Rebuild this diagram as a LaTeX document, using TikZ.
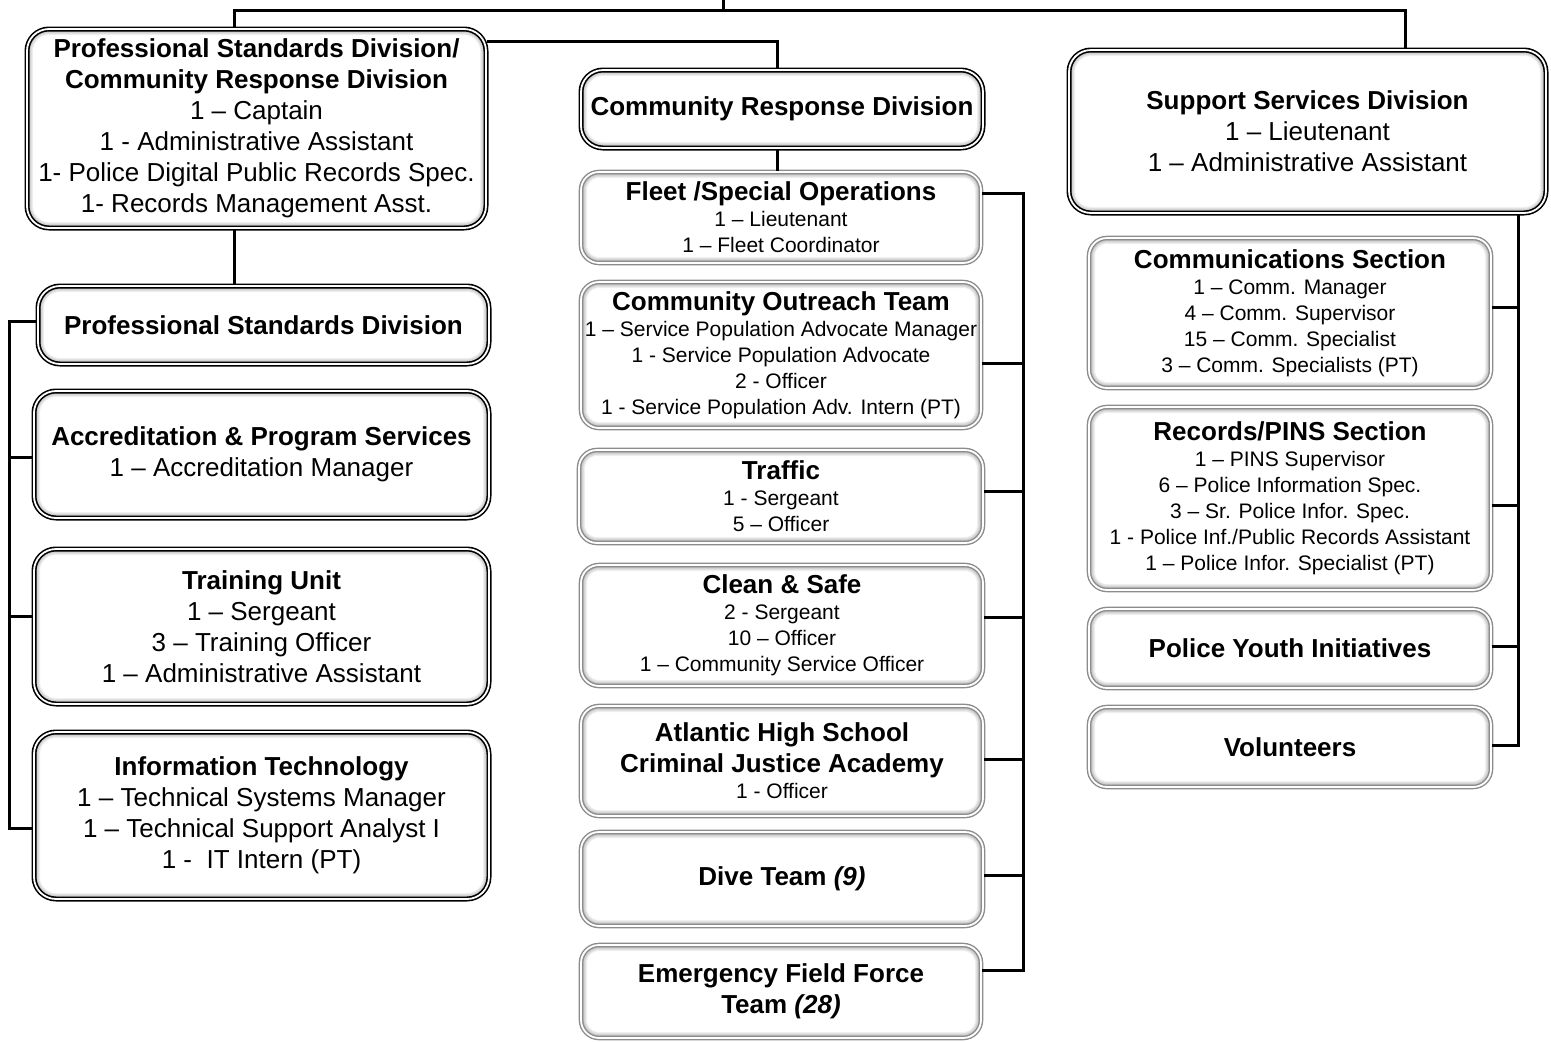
\documentclass[tikz,border=0pt]{standalone}
\usepackage{fontspec}
\setmainfont{Liberation Sans}
\newcommand\bigf{\fontsize{26}{31}\selectfont}
\newcommand\smallf{\fontsize{21}{26}\selectfont}
\newcommand\ttl[1]{{\fontsize{26}{31}\selectfont\bfseries #1}}
\begin{document}
\begin{tikzpicture}[
    x=1pt, y=-1pt,
    glow/.style={path picture={
        \foreach \w in {2pt,4pt,6pt,8pt,10pt,12pt}
          \draw[black, opacity=0.06, line width=\w, rounded corners=#1]
            (path picture bounding box.south west) rectangle
            (path picture bounding box.north east);}},
    dbox/.style={draw=black, double=white, double distance=1.8pt, line width=1.6pt,
                 rounded corners=22pt, fill=white, glow=22pt, align=center,
                 inner sep=0pt, font=\bigf},
    gbox/.style={draw=black!45, double=white, double distance=1.8pt, line width=1.4pt,
                 rounded corners=18pt, fill=white, glow=18pt, align=center,
                 inner sep=0pt, font=\smallf},
    conn/.style={line width=3pt},
  ]
    \useasboundingbox (0,0) rectangle (1551,1042);

    % Left column
    \node[dbox, minimum width=459pt, minimum height=199pt] (psdcrd) at (256.5,128.5)
      {\textbf{Professional Standards Division/}\\\textbf{Community Response Division}\\
       1 -- Captain\\1 - Administrative Assistant\\
       1- Police Digital Public Records Spec.\\1- Records Management Asst.};
    \node[dbox, minimum width=451pt, minimum height=78pt] (psd) at (263.5,325)
      {\textbf{Professional Standards Division}};
    \node[dbox, minimum width=455pt, minimum height=127pt] (acc) at (261.5,454.5)
      {\textbf{Accreditation \& Program Services}\\1 -- Accreditation Manager};
    \node[dbox, minimum width=455pt, minimum height=155pt] (train) at (261.5,626.5)
      {\textbf{Training Unit}\\1 -- Sergeant\\3 -- Training Officer\\1 -- Administrative Assistant};
    \node[dbox, minimum width=455pt, minimum height=167pt] (it) at (261.5,815.5)
      {\textbf{Information Technology}\\1 -- Technical Systems Manager\\
       1 -- Technical Support Analyst I\\1 -\ \ IT Intern (PT)};

    % Center column
    \node[dbox, minimum width=402pt, minimum height=78pt] (crd) at (782,109)
      {\textbf{Community Response Division}};
    \node[gbox, minimum width=400pt, minimum height=91pt] (fleet) at (781,217.5)
      {\ttl{Fleet /Special Operations}\\1 -- Lieutenant\\1 -- Fleet Coordinator};
    \node[gbox, minimum width=400pt, minimum height=146pt] (cot) at (781,355)
      {\ttl{Community Outreach Team}\\1 -- Service Population Advocate Manager\\
       1 - Service Population Advocate\\2 - Officer\\1 - Service Population Adv. Intern (PT)};
    \node[gbox, minimum width=404pt, minimum height=93pt] (traffic) at (781,496.5)
      {\ttl{Traffic}\\1 - Sergeant\\5 -- Officer};
    \node[gbox, minimum width=402pt, minimum height=121pt] (clean) at (782,625.5)
      {\ttl{Clean \& Safe}\\2 - Sergeant\\10 -- Officer\\1 -- Community Service Officer};
    \node[gbox, minimum width=402pt, minimum height=110pt] (ahs) at (782,761)
      {\ttl{Atlantic High School}\\[5pt]\ttl{Criminal Justice Academy}\\1 - Officer};
    \node[gbox, font=\bigf, minimum width=402pt, minimum height=94pt] (dive) at (782,879)
      {\textbf{Dive Team \textit{(9)}}};
    \node[gbox, font=\bigf, minimum width=400pt, minimum height=93pt] (eff) at (781,991.5)
      {\textbf{Emergency Field Force}\\\textbf{Team \textit{(28)}}};

    % Right column
    \node[dbox, minimum width=477pt, minimum height=163pt] (supp) at (1307.5,131.5)
      {\textbf{Support Services Division}\\1 -- Lieutenant\\1 -- Administrative Assistant};
    \node[gbox, minimum width=402pt, minimum height=150pt] (comm) at (1290,313)
      {\ttl{Communications Section}\\1 -- Comm. Manager\\4 -- Comm. Supervisor\\
       15 -- Comm. Specialist\\3 -- Comm. Specialists (PT)};
    \node[gbox, minimum width=402pt, minimum height=183pt] (rec) at (1290,498.5)
      {\ttl{Records/PINS Section}\\1 -- PINS Supervisor\\6 -- Police Information Spec.\\
       3 -- Sr. Police Infor. Spec.\\1 - Police Inf./Public Records Assistant\\
       1 -- Police Infor. Specialist (PT)};
    \node[gbox, font=\bigf, minimum width=402pt, minimum height=79pt] (youth) at (1290,648.5)
      {\textbf{Police Youth Initiatives}};
    \node[gbox, font=\bigf, minimum width=402pt, minimum height=80pt] (vol) at (1290,747)
      {\textbf{Volunteers}};

    % Connectors
    \coordinate (top) at (723,-10);
    \coordinate (hub) at (723,10);
    \coordinate (lbus) at (9,0);
    \coordinate (cbus) at (1023,0);
    \coordinate (rbus) at (1518,0);

    \draw[conn] (top) -- (hub);
    \draw[conn] ([xshift=-22.5pt]psdcrd.north) |- (hub) -| ([xshift=97.5pt]supp.north);
    \draw[conn] ([yshift=-13pt]psdcrd.north east) -| ([xshift=-5pt]crd.north);
    \draw[conn] ([xshift=-22.5pt]psdcrd.south) -- ([xshift=-22.5pt]psdcrd.south |- psd.north);
    \draw[conn] ([xshift=-5pt]crd.south) -- ([xshift=-5pt]crd.south |- fleet.north);

    \draw[conn] ([yshift=4pt]psd.west) -| ([yshift=-12.5pt]it.west -| lbus) -- ([yshift=-12.5pt]it.west);
    \foreach \n/\d in {acc/-2.5, train/10.5}
      \draw[conn] ([yshift=\d pt]\n.west) -- ([yshift=\d pt]\n.west -| lbus);

    \draw[conn] ([yshift=24.5pt]fleet.east) -| ([yshift=21.5pt]eff.east -| cbus) -- ([yshift=21.5pt]eff.east);
    \foreach \n/\d in {cot/-8, traffic/5.5, clean/8.5, ahs/2, dive/4}
      \draw[conn] ([yshift=\d pt]\n.east) -- ([yshift=\d pt]\n.east -| cbus);

    \draw[conn] (supp.south -| rbus) -- ([yshift=2pt]vol.east -| rbus) -- ([yshift=2pt]vol.east);
    \foreach \n/\d in {comm/6, rec/-6.5, youth/2.5}
      \draw[conn] ([yshift=\d pt]\n.east) -- ([yshift=\d pt]\n.east -| rbus);
  \end{tikzpicture}
\end{document}
